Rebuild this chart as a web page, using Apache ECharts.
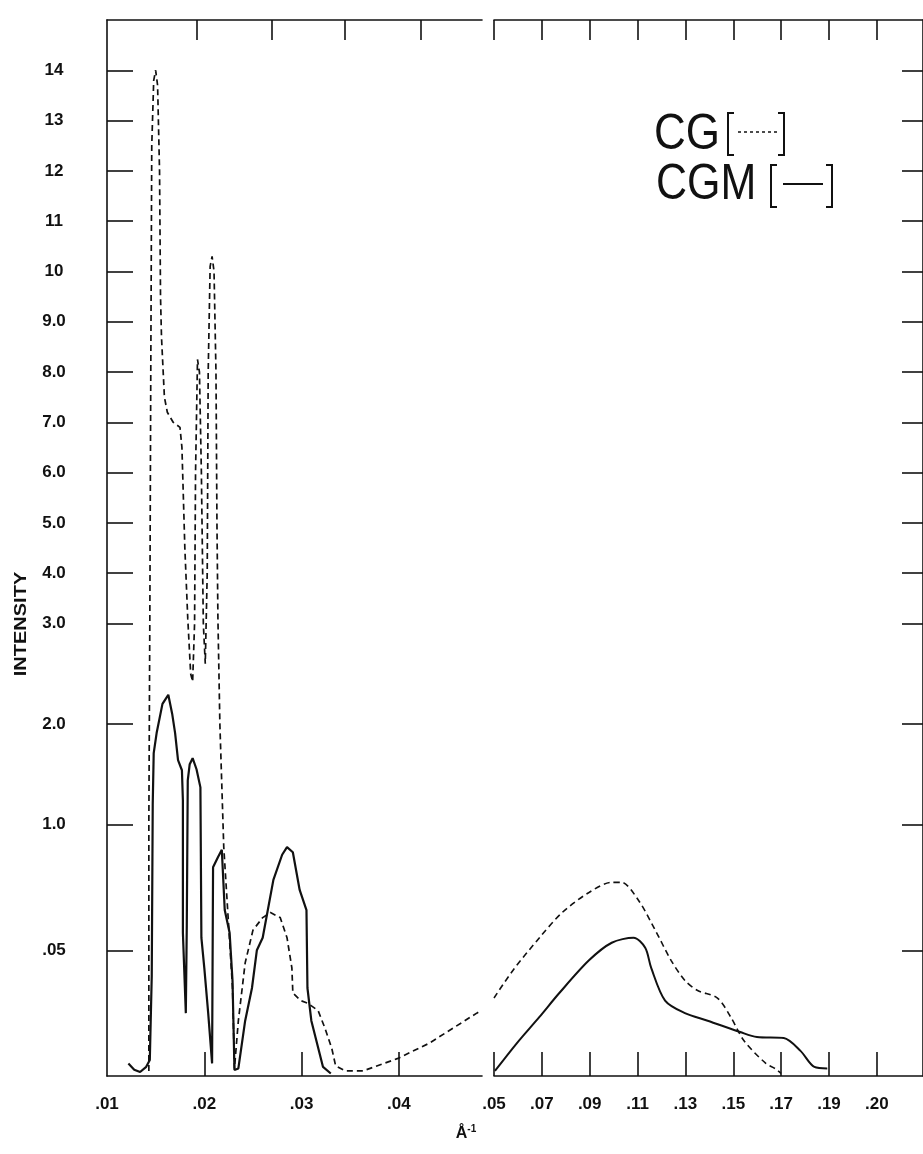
<!DOCTYPE html>
<html>
<head>
<meta charset="utf-8">
<title>CG / CGM intensity</title>
<script src="https://cdn.jsdelivr.net/npm/echarts@6.0.0/dist/echarts.min.js"></script>
<style>
  html, body { margin: 0; padding: 0; background: #fff; }
  #chart { width: 923px; height: 1154px; }
</style>
</head>
<body>
<div id="chart"></div>
<script>
// CG (dashed) and CGM (solid), [Å^-1, intensity]
const cgLeft = [
  [0.0143, 0.02], [0.0143, 1.0], [0.0144, 3.0], [0.0145, 8.0], [0.0146, 12.5],
  [0.0148, 13.8], [0.0150, 14.0], [0.0152, 13.7], [0.0154, 12.0], [0.0155, 9.5],
  [0.0156, 8.7], [0.0159, 7.5], [0.0162, 7.2], [0.0168, 7.0], [0.0175, 6.9],
  [0.0177, 6.5], [0.0180, 4.5], [0.0183, 3.1], [0.0186, 2.5], [0.0188, 2.42],
  [0.0190, 3.0], [0.0191, 6.0], [0.0193, 8.25], [0.0195, 8.0], [0.0197, 6.0],
  [0.0199, 3.0], [0.0201, 2.6], [0.0203, 4.0], [0.0204, 8.0], [0.0206, 10.1],
  [0.0208, 10.3], [0.0210, 10.0], [0.0212, 8.0], [0.0213, 5.0], [0.0214, 3.1],
  [0.0216, 2.0], [0.0220, 0.91], [0.0225, 0.6], [0.0229, 0.35], [0.0231, 0.03],
  [0.0233, 0.03], [0.0235, 0.22], [0.0242, 0.45], [0.0250, 0.58], [0.0260, 0.63],
  [0.0268, 0.65], [0.0278, 0.63], [0.0285, 0.55], [0.0290, 0.43], [0.0291, 0.33],
  [0.0299, 0.30], [0.0306, 0.29], [0.0317, 0.26], [0.0324, 0.19], [0.0331, 0.11],
  [0.0335, 0.04], [0.0345, 0.02], [0.0363, 0.02], [0.0399, 0.07], [0.0431, 0.13],
  [0.0480, 0.25], [0.0485, 0.26]
];
const cgmLeft = [
  [0.0122, 0.05], [0.0128, 0.025], [0.0134, 0.016], [0.0140, 0.035], [0.0144, 0.064],
  [0.0146, 0.4], [0.0147, 1.2], [0.0148, 1.71], [0.0151, 1.91], [0.0157, 2.2],
  [0.0163, 2.29], [0.0167, 2.1], [0.0170, 1.91], [0.0173, 1.64], [0.0177, 1.54],
  [0.0178, 1.24], [0.0178, 0.57], [0.0181, 0.25], [0.0182, 0.6], [0.0183, 1.44],
  [0.0185, 1.6], [0.0188, 1.66], [0.0192, 1.55], [0.0196, 1.37], [0.0197, 0.55],
  [0.0200, 0.43], [0.0204, 0.25], [0.0208, 0.05], [0.0209, 0.83], [0.0214, 0.87],
  [0.0218, 0.90], [0.0221, 0.66], [0.0226, 0.57], [0.0229, 0.38], [0.0231, 0.024],
  [0.0235, 0.03], [0.0242, 0.22], [0.0249, 0.35], [0.0254, 0.50], [0.0260, 0.55],
  [0.0271, 0.78], [0.0280, 0.88], [0.0285, 0.91], [0.0291, 0.89], [0.0298, 0.74],
  [0.0305, 0.66], [0.0306, 0.35], [0.0310, 0.22], [0.0322, 0.036], [0.0330, 0.01]
];
const cgRight = [
  [0.0500, 0.31], [0.0579, 0.42], [0.0690, 0.55], [0.0785, 0.65], [0.0897, 0.73],
  [0.0992, 0.77], [0.1033, 0.77], [0.1103, 0.70], [0.1174, 0.58], [0.1240, 0.46],
  [0.1298, 0.38], [0.1351, 0.34], [0.1434, 0.31], [0.1492, 0.23], [0.1545, 0.14],
  [0.1636, 0.05], [0.1674, 0.03], [0.1700, 0.01]
];
const cgmRight = [
  [0.0504, 0.02], [0.0595, 0.13], [0.0690, 0.235], [0.0773, 0.33], [0.0897, 0.46],
  [0.0992, 0.53], [0.1083, 0.55], [0.1132, 0.51], [0.1157, 0.43], [0.1215, 0.30],
  [0.1298, 0.25], [0.1393, 0.22], [0.1529, 0.175], [0.1599, 0.155], [0.1711, 0.151],
  [0.1781, 0.10], [0.1839, 0.036], [0.1893, 0.03]
];

// tick values and their printed labels
const yTickValues = [0.5, 1, 2, 3, 4, 5, 6, 7, 8, 9, 10, 11, 12, 13, 14];
const yTickLabels = ['.05', '1.0', '2.0', '3.0', '4.0', '5.0', '6.0', '7.0', '8.0', '9.0', '10', '11', '12', '13', '14'];
const xTicksLeft = [0.01, 0.02, 0.03, 0.04];
const xLabelsLeft = ['.01', '.02', '.03', '.04'];
const xTicksRight = [0.05, 0.07, 0.09, 0.11, 0.13, 0.15, 0.17, 0.19, 0.21];
const xLabelsRight = ['.05', '.07', '.09', '.11', '.13', '.15', '.17', '.19', '.20'];
const topTicksLeft = [0.01925, 0.02696, 0.03446, 0.04227];

// the intensity scale is stretched below 3: 0-1, 1-3 and 3-14 segments
function toAxis(v) {
  if (v <= 1) return v * 5;
  if (v <= 3) return 5 + (v - 1) * 2;
  return 9 + (v - 3);
}

function labelOf(values, labels) {
  return (val) => {
    const i = values.findIndex(t => Math.abs(t - val) < 1e-6);
    return i >= 0 ? labels[i] : '';
  };
}

const ink = '#111';
const tickFont = { fontFamily: 'Liberation Sans', fontWeight: 'bold', fontSize: 17, color: ink };
const yAxisTicks = yTickValues.map(toAxis);
const toSeries = arr => arr.map(d => [d[0], toAxis(d[1])]);

const chart = echarts.init(document.getElementById('chart'), null, { renderer: 'canvas' });

chart.setOption({
  animation: false,
  backgroundColor: '#fff',
  grid: [
    { left: 107, top: 20, width: 375, height: 1056 },
    { left: 494, top: 20, width: 434, height: 1056 }
  ],
  xAxis: [
    {
      gridIndex: 0, type: 'value', position: 'bottom', min: 0.01, max: 0.04854,
      axisLine: { lineStyle: { color: ink, width: 1.6 } },
      axisTick: { inside: true, length: 24, customValues: xTicksLeft.slice(1), lineStyle: { color: ink, width: 1.6 } },
      axisLabel: { ...tickFont, margin: 20, customValues: xTicksLeft, formatter: labelOf(xTicksLeft, xLabelsLeft) },
      splitLine: { show: false }
    },
    {
      gridIndex: 0, type: 'value', position: 'top', min: 0.01, max: 0.04854,
      axisLine: { lineStyle: { color: ink, width: 1.6 } },
      axisTick: { inside: true, length: 20, customValues: topTicksLeft, lineStyle: { color: ink, width: 1.6 } },
      axisLabel: { show: false },
      splitLine: { show: false }
    },
    {
      gridIndex: 1, type: 'value', position: 'bottom', min: 0.05, max: 0.2293,
      axisLine: { lineStyle: { color: ink, width: 1.6 } },
      axisTick: { inside: true, length: 24, customValues: xTicksRight, lineStyle: { color: ink, width: 1.6 } },
      axisLabel: { ...tickFont, margin: 20, customValues: xTicksRight, formatter: labelOf(xTicksRight, xLabelsRight) },
      splitLine: { show: false }
    },
    {
      gridIndex: 1, type: 'value', position: 'top', min: 0.05, max: 0.2293,
      axisLine: { lineStyle: { color: ink, width: 1.6 } },
      axisTick: { inside: true, length: 20, customValues: xTicksRight, lineStyle: { color: ink, width: 1.6 } },
      axisLabel: { show: false },
      splitLine: { show: false }
    }
  ],
  yAxis: [
    {
      gridIndex: 0, type: 'value', position: 'left', min: 0, max: 21,
      axisLine: { show: true, lineStyle: { color: ink, width: 1.6 } },
      axisTick: { show: true, inside: true, length: 26, customValues: yAxisTicks, lineStyle: { color: ink, width: 1.6 } },
      axisLabel: {
        ...tickFont, align: 'center', margin: 53, customValues: yAxisTicks,
        formatter: labelOf(yAxisTicks, yTickLabels)
      },
      splitLine: { show: false }
    },
    {
      gridIndex: 1, type: 'value', position: 'right', min: 0, max: 21,
      axisLine: { show: true, lineStyle: { color: ink, width: 1.6 } },
      axisTick: { show: true, inside: true, length: 21, customValues: yAxisTicks, lineStyle: { color: ink, width: 1.6 } },
      axisLabel: { show: false },
      splitLine: { show: false }
    }
  ],
  series: [
    {
      name: 'CG', type: 'line', xAxisIndex: 0, yAxisIndex: 0, data: toSeries(cgLeft),
      showSymbol: false, lineStyle: { color: ink, width: 1.7, type: [6, 4] }
    },
    {
      name: 'CGM', type: 'line', xAxisIndex: 0, yAxisIndex: 0, data: toSeries(cgmLeft),
      showSymbol: false, lineStyle: { color: ink, width: 2.2 }
    },
    {
      name: 'CG', type: 'line', xAxisIndex: 2, yAxisIndex: 1, data: toSeries(cgRight),
      showSymbol: false, smooth: 0.3, lineStyle: { color: ink, width: 1.6, type: [6, 4] }
    },
    {
      name: 'CGM', type: 'line', xAxisIndex: 2, yAxisIndex: 1, data: toSeries(cgmRight),
      showSymbol: false, smooth: 0.3, lineStyle: { color: ink, width: 2 }
    }
  ],
  graphic: [
    {
      type: 'text', x: 22, y: 624, rotation: Math.PI / 2, scaleX: 1.25,
      style: { text: 'INTENSITY', fontFamily: 'Liberation Sans', fontWeight: 'bold', fontSize: 16, fill: ink, align: 'center', verticalAlign: 'middle' }
    },
    {
      type: 'text', x: 466, y: 1134,
      style: {
        text: '{a|Å}{s|-1}', align: 'center', verticalAlign: 'middle', fill: ink,
        rich: {
          a: { fontFamily: 'Liberation Sans', fontWeight: 'bold', fontSize: 16, fill: ink },
          s: { fontFamily: 'Liberation Sans', fontWeight: 'bold', fontSize: 10, fill: ink, verticalAlign: 'top', padding: [0, 0, 10, 0] }
        }
      }
    },
    // legend
    {
      type: 'text', x: 654, y: 135, scaleX: 0.88,
      style: { text: 'CG', fontFamily: 'Liberation Sans', fontSize: 50, fill: ink, verticalAlign: 'middle' }
    },
    { type: 'polyline', shape: { points: [[734, 113], [728, 113], [728, 155], [734, 155]] }, style: { stroke: ink, lineWidth: 2, fill: null } },
    { type: 'line', shape: { x1: 738, y1: 132, x2: 777, y2: 132 }, style: { stroke: ink, lineWidth: 1.5, lineDash: [3, 3] } },
    { type: 'polyline', shape: { points: [[778, 113], [784, 113], [784, 155], [778, 155]] }, style: { stroke: ink, lineWidth: 2, fill: null } },
    {
      type: 'text', x: 656, y: 185, scaleX: 0.86,
      style: { text: 'CGM', fontFamily: 'Liberation Sans', fontSize: 50, fill: ink, verticalAlign: 'middle' }
    },
    { type: 'polyline', shape: { points: [[777, 165], [771, 165], [771, 207], [777, 207]] }, style: { stroke: ink, lineWidth: 2, fill: null } },
    { type: 'line', shape: { x1: 783, y1: 184, x2: 823, y2: 184 }, style: { stroke: ink, lineWidth: 2 } },
    { type: 'polyline', shape: { points: [[826, 165], [832, 165], [832, 207], [826, 207]] }, style: { stroke: ink, lineWidth: 2, fill: null } }
  ]
});
</script>
</body>
</html>
